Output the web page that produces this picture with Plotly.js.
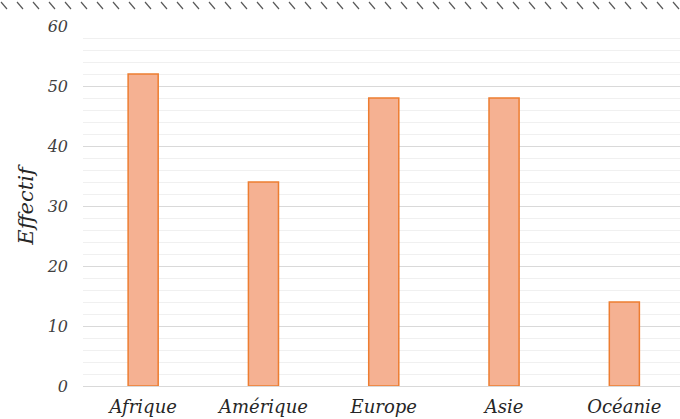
<!DOCTYPE html>
<html>
<head>
<meta charset="utf-8">
<script src="https://cdn.plot.ly/plotly-3.0.1.min.js"></script>
<style>html,body{margin:0;padding:0;background:#fff;}#chart{width:680px;height:419px;}</style>
</head>
<body>
<div id="chart"></div>
<script>
var categories = ["Afrique", "Amérique", "Europe", "Asie", "Océanie"];
var effectifs = [52, 34, 48, 48, 14];
var yTickValues = [0, 10, 20, 30, 40, 50, 60];
var yTitle = "Effectif";

var W = 680, H = 419, ML = 83, MR = 0, MT = 26, MB = 33;
var plotW = W - ML - MR, plotH = H - MT - MB;

var shapes = [];
for (var px = 1; px < W; px += 16) {
  shapes.push({
    type: "line", xref: "paper", yref: "paper",
    x0: (px - ML) / plotW, x1: (px + 6 - ML) / plotW,
    y0: (H - MB - 2) / plotH, y1: (H - MB - 9) / plotH,
    line: {color: "#595959", width: 1.2}
  });
}

var trace = {
  type: "bar",
  x: categories,
  y: effectifs,
  width: 0.25,
  marker: {color: "#f5b192", line: {color: "#ed7d31", width: 1.5}},
  hoverinfo: "x+y"
};

var fam = "DejaVu Serif, Liberation Serif, serif";

var layout = {
  width: W, height: H,
  margin: {l: ML, r: MR, t: MT, b: MB, pad: 0},
  paper_bgcolor: "#fff", plot_bgcolor: "#fff",
  showlegend: false,
  font: {family: fam, color: "#404040"},
  xaxis: {
    type: "category",
    range: [-0.5, -0.5 + plotW / 120.3],
    showgrid: false, zeroline: false, showline: false, ticks: "",
    tickfont: {family: fam, size: 18, color: "#262626", style: "italic"},
    ticklabelstandoff: 8,
    fixedrange: true
  },
  yaxis: {
    range: [0, 60],
    tickvals: yTickValues,
    ticktext: yTickValues.map(String),
    showgrid: true, gridcolor: "#d9d9d9", gridwidth: 1,
    minor: {dtick: 2, showgrid: true, gridcolor: "#f0f0f0", gridwidth: 1},
    zeroline: true, zerolinecolor: "#d9d9d9", zerolinewidth: 1,
    showline: false, ticks: "",
    tickfont: {family: fam, size: 16, color: "#404040", style: "italic"},
    ticklabelstandoff: 14,
    title: {text: yTitle, font: {family: fam, size: 21, color: "#262626", style: "italic"}, standoff: 7},
    automargin: false,
    fixedrange: true
  },
  shapes: shapes
};

Plotly.newPlot("chart", [trace], layout, {displayModeBar: false, staticPlot: true});
</script>
</body>
</html>
